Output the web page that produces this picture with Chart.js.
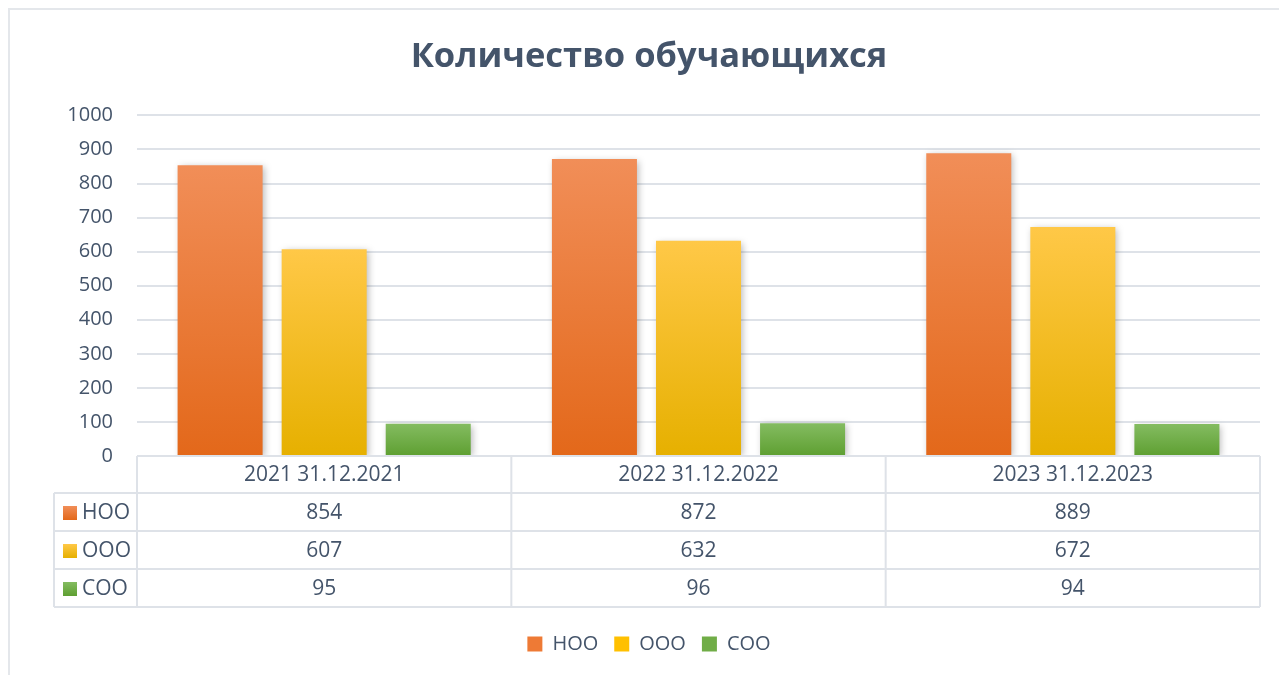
<!DOCTYPE html>
<html>
<head>
<meta charset="utf-8">
<script src="https://cdn.jsdelivr.net/npm/chart.js@4/dist/chart.umd.min.js"></script>
<style>
  html, body { margin: 0; padding: 0; background: #fff; }
  canvas { display: block; }
</style>
</head>
<body>
<canvas id="chart" width="1279" height="675"></canvas>
<script>
// данные диаграммы
const categories = ['2021 31.12.2021', '2022 31.12.2022', '2023 31.12.2023'];
const seriesNames = ['НОО', 'ООО', 'СОО'];
const nooValues = [854, 872, 889];
const oooValues = [607, 632, 672];
const sooValues = [95, 96, 94];
const yMin = 0, yMax = 1000, yStep = 100;

const textColor = '#44546A';
const lineColor = '#DEE2E8';
const font = '"Open Sans", "DejaVu Sans", sans-serif';

// верх / низ градиента столбцов
const palette = [
	{ top: '#F18E58', bottom: '#E3681A', solid: '#EE7A35' },
	{ top: '#FFC847', bottom: '#E6B000', solid: '#FFC000' },
	{ top: '#84BC61', bottom: '#5E9F31', solid: '#70AD47' }
];

function barGradient(idx) {
	return function (ctx) {
		const chart = ctx.chart;
		const area = chart.chartArea;
		if (!area || ctx.parsed == null) return palette[idx].solid;
		const y = chart.scales.y;
		const top = y.getPixelForValue(ctx.parsed.y);
		const bottom = y.getPixelForValue(0);
		if (bottom - top < 1) return palette[idx].solid;
		const g = chart.ctx.createLinearGradient(0, top, 0, bottom);
		g.addColorStop(0, palette[idx].top);
		g.addColorStop(1, palette[idx].bottom);
		return g;
	};
}

const allValues = [nooValues, oooValues, sooValues];

// рамка и фон
const framePlugin = {
	id: 'frame',
	beforeDraw(chart) {
		const c = chart.ctx;
		c.save();
		c.fillStyle = '#fff';
		c.fillRect(0, 0, chart.width, chart.height);
		c.strokeStyle = '#E4E7EB';
		c.lineWidth = 2;
		c.strokeRect(9, 9, chart.width + 20, chart.height + 20);
		c.restore();
	}
};

// тень у столбцов
const shadowPlugin = {
	id: 'barShadow',
	beforeDatasetsDraw(chart) {
		const c = chart.ctx;
		c.save();
		c.shadowColor = 'rgba(0,0,0,0.28)';
		c.shadowBlur = 7;
		c.shadowOffsetX = 2;
		c.shadowOffsetY = 2;
	},
	afterDatasetsDraw(chart) {
		chart.ctx.restore();
	}
};

// таблица данных под осью
const tablePlugin = {
	id: 'dataTable',
	afterDraw(chart) {
		const c = chart.ctx;
		const area = chart.chartArea;
		const x = chart.scales.x;
		const n = categories.length;
		const colW = area.width / n;
		const top = area.bottom;
		const headH = 37;
		const rowH = 38;
		const leftX = 54;
		const bottom = top + headH + rowH * seriesNames.length;

		c.save();
		c.strokeStyle = lineColor;
		c.lineWidth = 2;
		c.beginPath();
		// горизонтали
		c.moveTo(area.left, top); c.lineTo(area.right, top);
		for (let r = 0; r <= seriesNames.length; r++) {
			const yy = top + headH + r * rowH;
			c.moveTo(leftX, yy); c.lineTo(area.right, yy);
		}
		// вертикали
		c.moveTo(leftX, top + headH); c.lineTo(leftX, bottom);
		for (let i = 0; i <= n; i++) {
			const xx = area.left + i * colW;
			c.moveTo(xx, top); c.lineTo(xx, bottom);
		}
		c.stroke();

		c.fillStyle = textColor;
		c.font = '21px ' + font;
		c.textAlign = 'center';
		c.textBaseline = 'middle';
		categories.forEach((cat, i) => {
			c.fillText(cat, x.getPixelForValue(i), top + headH / 2 + 1);
		});
		seriesNames.forEach((name, r) => {
			const cy = top + headH + r * rowH + rowH / 2 + 1;
			allValues[r].forEach((v, i) => {
				c.textAlign = 'center';
				c.fillText(String(v), x.getPixelForValue(i), cy);
			});
			const g = c.createLinearGradient(0, cy - 7, 0, cy + 7);
			g.addColorStop(0, palette[r].top);
			g.addColorStop(1, palette[r].bottom);
			c.fillStyle = g;
			c.fillRect(63, cy - 7, 14, 14);
			c.fillStyle = textColor;
			c.textAlign = 'left';
			c.fillText(name, 82, cy);
		});
		c.restore();
	}
};

new Chart(document.getElementById('chart'), {
	type: 'bar',
	data: {
		labels: categories,
		datasets: allValues.map((vals, i) => ({
			label: seriesNames[i],
			data: vals,
			backgroundColor: barGradient(i),
			borderWidth: 0,
			categoryPercentage: 0.834,
			barPercentage: 0.817
		}))
	},
	options: {
		responsive: false,
		animation: false,
		devicePixelRatio: 1,
		layout: { padding: { top: 18, right: 19, bottom: 11, left: 38 } },
		plugins: {
			title: {
				display: true,
				text: 'Количество обучающихся',
				color: textColor,
				font: { family: font, size: 34.5, weight: 'bold' },
				padding: { top: 18, bottom: 38 }
			},
			legend: {
				position: 'bottom',
				labels: {
					color: textColor,
					font: { family: font, size: 20 },
					boxWidth: 15,
					boxHeight: 15,
					padding: 16,
					generateLabels(chart) {
						return seriesNames.map((name, i) => ({
							text: name,
							fillStyle: palette[i].solid,
							strokeStyle: palette[i].solid,
							lineWidth: 0,
							fontColor: textColor,
							datasetIndex: i
						}));
					}
				}
			},
			tooltip: { enabled: false }
		},
		scales: {
			x: {
				grid: { display: false },
				border: { display: false },
				ticks: { display: false },
				afterFit(scale) { scale.height = 162; }
			},
			y: {
				min: yMin,
				max: yMax,
				grid: { color: lineColor, lineWidth: 2, drawTicks: false },
				border: { display: false },
				ticks: {
					stepSize: yStep,
					color: textColor,
					padding: 24,
					font: { family: font, size: 20 },
					callback: (v) => String(v)
				},
				afterFit(scale) { scale.width = 99; }
			}
		}
	},
	plugins: [framePlugin, shadowPlugin, tablePlugin]
});
</script>
</body>
</html>
